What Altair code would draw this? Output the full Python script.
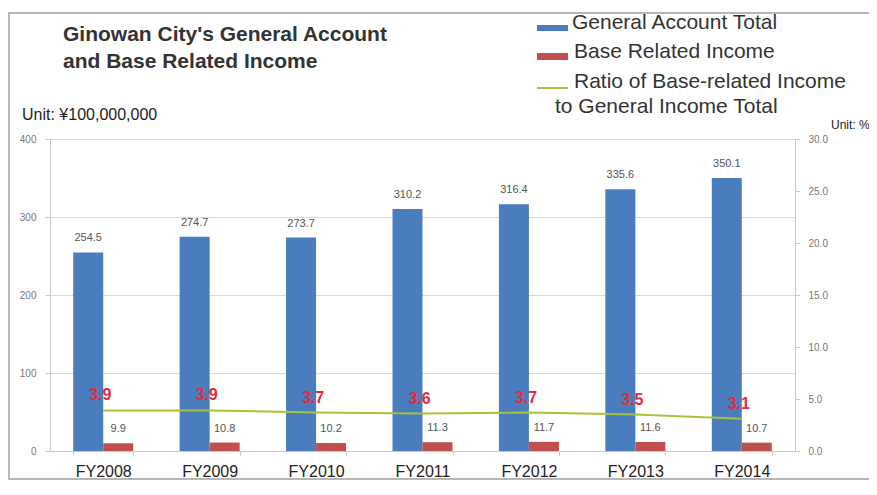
import altair as alt
import pandas as pd

years = ["FY2008", "FY2009", "FY2010", "FY2011", "FY2012", "FY2013", "FY2014"]
general_total = [254.5, 274.7, 273.7, 310.2, 316.4, 335.6, 350.1]
base_income = [9.9, 10.8, 10.2, 11.3, 11.7, 11.6, 10.7]
ratio_pct = [3.9, 3.9, 3.7, 3.6, 3.7, 3.5, 3.1]

left_ticks = [0, 100, 200, 300, 400]
right_ticks = [0, 5, 10, 15, 20, 25, 30]

title_lines = ["Ginowan City's General Account", "and Base Related Income"]
legend_labels = ["General Account Total", "Base Related Income",
                 "Ratio of Base-related Income", "to General Income Total"]
unit_left = "Unit: ¥100,000,000"
unit_right = "Unit: %"

BLUE = "#4a7dbd"
RED = "#c0504d"
GREEN = "#a8c23c"
LABEL_RED = "#e8283a"
FONT = "Liberation Sans"

df = pd.DataFrame({"year": years, "general": general_total,
                   "base": base_income, "ratio": ratio_pct})
one = pd.DataFrame({"k": [0]})

xscale = alt.Scale(domain=years, paddingInner=0.436, paddingOuter=0.218)
x_axis = alt.Axis(labelAngle=0, ticks=True, tickSize=4, tickBand="extent",
                  tickColor="#c8c8c8", domainColor="#c8c8c8",
                  labelFontSize=16, labelColor="#222", labelFont=FONT,
                  labelPadding=8, title=None)
X = alt.X("year:N", sort=years, scale=xscale, axis=x_axis)

lscale = alt.Scale(domain=[0, 400], nice=False)
rscale = alt.Scale(domain=[0, 30], nice=False)

base = alt.Chart(df)

blue_bars = base.mark_bar(width=30, xOffset=-15, color=BLUE).encode(
    x=X,
    y=alt.Y("general:Q", scale=lscale,
            axis=alt.Axis(values=left_ticks, grid=True, gridColor="#d9d9d9",
                          domainColor="#c8c8c8", tickColor="#c8c8c8", tickSize=5,
                          labelFontSize=10, labelColor="#777", labelFont=FONT,
                          labelPadding=9, title=None)),
)
red_bars = base.mark_bar(width=30, xOffset=15, color=RED).encode(
    x=X, y=alt.Y("base:Q", scale=lscale, axis=None))
blue_text = base.mark_text(dx=-15, dy=-9, baseline="bottom", fontSize=11,
                           color="#555", font=FONT).encode(
    x=X, y=alt.Y("general:Q", scale=lscale, axis=None),
    text=alt.Text("general:Q", format=".1f"))
red_text = base.mark_text(dx=15, dy=-9, baseline="bottom", fontSize=11,
                          color="#555", font=FONT).encode(
    x=X, y=alt.Y("base:Q", scale=lscale, axis=None),
    text=alt.Text("base:Q", format=".1f"))

ratio_line = base.mark_line(color=GREEN, strokeWidth=2).encode(
    x=X,
    y=alt.Y("ratio:Q", scale=rscale,
            axis=alt.Axis(orient="right", values=right_ticks, format=".1f",
                          grid=False, domainColor="#c8c8c8", tickColor="#c8c8c8",
                          tickSize=5, labelFontSize=10, labelColor="#777",
                          labelFont=FONT, labelPadding=8, title=None)),
)
ratio_text = base.mark_text(dx=-3, dy=-15, fontSize=16, fontWeight="bold",
                            color=LABEL_RED, font=FONT).encode(
    x=X, y=alt.Y("ratio:Q", scale=rscale, axis=None),
    text=alt.Text("ratio:Q", format=".1f"))

ann = alt.Chart(one)
frame = ann.mark_rect(filled=False, stroke="#a0a0a0", strokeWidth=1.5).encode(
    x=alt.value(-41), x2=alt.value(840), y=alt.value(-126), y2=alt.value(340))


def txt(s, x, y, size, weight="normal", color="#222", baseline="middle"):
    return ann.mark_text(align="left", baseline=baseline, fontSize=size,
                         fontWeight=weight, color=color, font=FONT).encode(
        x=alt.value(x), y=alt.value(y), text=alt.value(s))


t1 = txt(title_lines[0], 13, -98, 21, "bold", "#333", "alphabetic")
t2 = txt(title_lines[1], 13, -71, 21, "bold", "#333", "alphabetic")
u1 = txt(unit_left, -28, -24, 16, "normal", "#222")
u2 = txt(unit_right, 781, -14, 12, "normal", "#222")
l1 = txt(legend_labels[0], 522, -116, 21, "normal", "#333")
l2 = txt(legend_labels[1], 524, -87, 21, "normal", "#333")
l3 = txt(legend_labels[2], 524, -57, 21, "normal", "#333")
l4 = txt(legend_labels[3], 505, -32, 21, "normal", "#333")

sw1 = ann.mark_rect(color=BLUE).encode(x=alt.value(487), x2=alt.value(518),
                                       y=alt.value(-114), y2=alt.value(-108))
sw2 = ann.mark_rect(color=RED).encode(x=alt.value(487), x2=alt.value(518),
                                      y=alt.value(-86), y2=alt.value(-79))
sw3 = ann.mark_rule(color=GREEN, strokeWidth=2).encode(
    x=alt.value(487), x2=alt.value(518), y=alt.value(-51))

chart = alt.layer(
    blue_bars, red_bars, blue_text, red_text, ratio_line, ratio_text,
    frame, t1, t2, u1, u2, l1, l2, l3, l4, sw1, sw2, sw3,
).resolve_scale(y="independent").properties(
    width=745, height=312,
    padding={"left": 42, "top": 131, "right": 74, "bottom": 30},
    autosize=alt.AutoSizeParams(type="none"),
    background="white",
).configure_view(stroke=None)

chart.save("out.html", embed_options={"renderer": "svg", "actions": False})
